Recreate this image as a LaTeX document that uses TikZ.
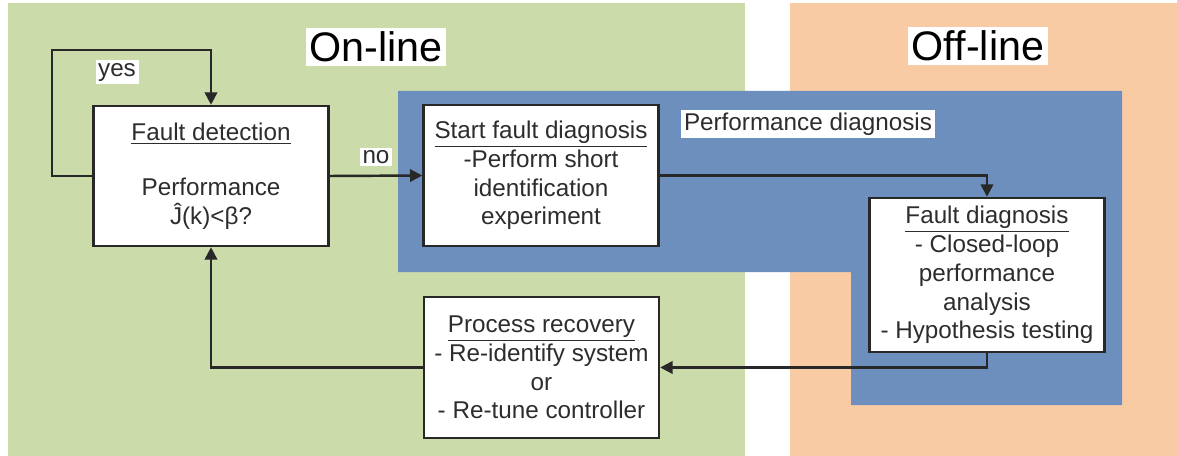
\documentclass[tikz,border=0pt]{standalone}
\usepackage{fontspec}
\setmainfont{Liberation Sans}
\usepackage{tikz}
\usetikzlibrary{arrows.meta}
\definecolor{onlinegreen}{RGB}{203,219,169}
\definecolor{offlineorange}{RGB}{249,203,165}
\definecolor{diagblue}{RGB}{109,143,190}
\definecolor{textgrey}{RGB}{45,45,45}
\definecolor{linegrey}{RGB}{40,40,40}

\begin{document}
\begin{tikzpicture}
      [x=0.02cm,y=-0.02cm,line join=miter,
     %the four boxes of the loop
     box/.style={draw=linegrey,line width=1.4pt,fill=white,text=textgrey,
       align=center,minimum width=4.7cm,inner sep=0pt,
       font=\fontsize{13.8}{16.4}\selectfont},
     %connectors with a filled tip
     flow/.style={draw=linegrey,line width=1.4pt,
       -{Triangle[length=7pt,width=7pt]}},
     %white labels on the coloured areas
     tag/.style={fill=white,text=textgrey,inner sep=1.5pt,
       font=\fontsize{13.8}{16}\selectfont},
     title/.style={fill=white,text=black,inner sep=2pt,
       font=\fontsize{23.5}{26}\selectfont}]

\useasboundingbox (0,0) rectangle (1177,456);

%background areas
  \fill[onlinegreen] (8,3) rectangle (745,456);
  \fill[offlineorange] (790,3) rectangle (1177,456);
  \fill[diagblue] (398,91) -- (1122,91) -- (1122,405) -- (851,405)
                  -- (851,272) -- (398,272) -- cycle;

%area titles
  \node[title] (online) at (376,47) {On-line};
  \node[title] (offline) at (978,46) {Off-line};
  \node[tag] (perfdiag) at (808,124) {Performance diagnosis};

%the boxes
  \node[box,minimum height=2.8cm] (detect) at (211,176)
    {\underline{Fault detection}\\[15pt]Performance\\Ĵ(k)<β?};
  \node[box,minimum height=2.82cm] (start) at (541,175.5)
    {\underline{Start fault diagnosis}\\-Perform short\\identification\\experiment};
  \node[box,minimum height=3.08cm] (diagnose) at (987,275)
    {\underline{Fault diagnosis}\\- Closed-loop\\performance\\analysis\\- Hypothesis testing};
  \node[box,minimum height=2.82cm] (recover) at (541.5,367.5)
    {\underline{Process recovery}\\- Re-identify system\\or\\- Re-tune controller};

%connectors
  \coordinate (yestop) at (52,50);
  \draw[flow] (detect.west) -| (yestop) -| (detect.north);
  \node[tag] (yes) at (117,72) {yes};
  \draw[flow] (detect.east) -- (start.west);
  \node[tag] (no) at (376,157) {no};
  \draw[flow] (start.east) -| (diagnose.north);
  \draw[flow] (diagnose.south) |- (recover.east);
  \draw[flow] (recover.west) -| (detect.south);
\end{tikzpicture}
\end{document}
